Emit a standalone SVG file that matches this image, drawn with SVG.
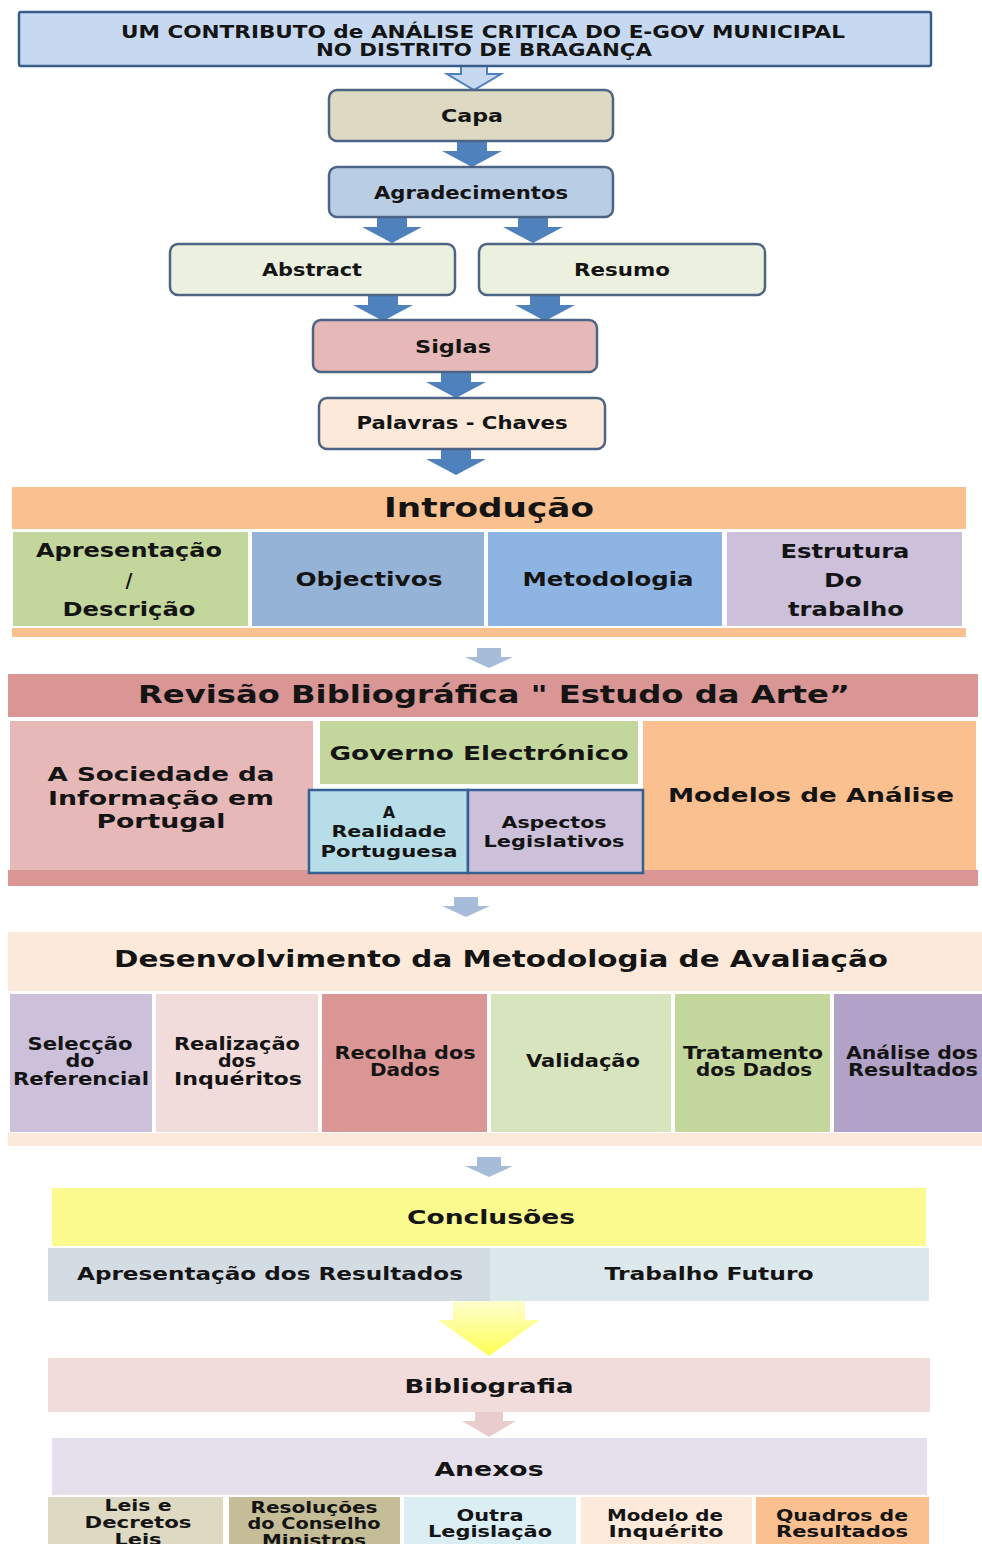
<svg xmlns="http://www.w3.org/2000/svg" width="982" height="1544" viewBox="0 0 982 1544">
  <style>
    .t { font-family: "DejaVu Sans", Verdana, "Liberation Sans", sans-serif; font-weight: bold; fill: #141414; text-anchor: middle; }
    .node { stroke: #4d6585; stroke-width: 2.5; }
    .title { fill: #c6d9f1; stroke: #385d8a; stroke-width: 2.5; }
  </style>
  <defs>
    <!-- block arrows, drawn from the top-centre point downwards -->
    <path id="arrowBlue" d="M-15,0 H15 V10 H30 L0,26 L-30,10 H-15 Z" fill="#4f81bd"/>
    <path id="arrowLight" d="M-12,0 H12 V9 H24 L0,20 L-24,9 H-12 Z" fill="#a7bcd8"/>
    <linearGradient id="yellowFade" x1="0" y1="0" x2="0" y2="1">
      <stop offset="0" stop-color="#fdfdd0"/>
      <stop offset="1" stop-color="#ffff55"/>
    </linearGradient>
  </defs>

  <rect width="982" height="1544" fill="#ffffff"/>

  <!-- connectors -->
  <g id="connectors">
    <path d="M461,66 H487 V74 H501 L474,90 L447,74 H461 Z" fill="#c6d9f1" stroke="#4f81bd" stroke-width="2"/>
    <use href="#arrowBlue" x="472" y="141"/>
    <use href="#arrowBlue" x="392" y="217"/>
    <use href="#arrowBlue" x="533" y="217"/>
    <use href="#arrowBlue" x="383" y="295"/>
    <use href="#arrowBlue" x="545" y="295"/>
    <use href="#arrowBlue" x="456" y="372"/>
    <use href="#arrowBlue" x="456" y="449"/>
    <use href="#arrowLight" x="489" y="648"/>
    <use href="#arrowLight" x="466" y="897"/>
    <use href="#arrowLight" x="489" y="1157"/>
    <path d="M453,1300 H525 V1320 H540 L489,1356 L438,1320 H453 Z" fill="url(#yellowFade)"/>
    <path d="M475,1411 H503 V1421 H516 L489,1437 L462,1421 H475 Z" fill="#e8cdcc"/>
  </g>

  <!-- title -->
  <g id="title">
    <rect class="title" x="19" y="12" width="912" height="54" rx="2"/>
    <text class="t" x="483" y="38" font-size="17" textLength="724" lengthAdjust="spacingAndGlyphs">UM CONTRIBUTO de ANÁLISE CRITICA DO E-GOV MUNICIPAL</text>
    <text class="t" x="484" y="56" font-size="17" textLength="336" lengthAdjust="spacingAndGlyphs">NO DISTRITO DE BRAGANÇA</text>
  </g>

  <g id="capa">
    <rect class="node" x="329" y="90" width="284" height="51" rx="8" fill="#ddd9c3"/>
    <text class="t" x="472" y="122" font-size="17" textLength="62" lengthAdjust="spacingAndGlyphs">Capa</text>
  </g>

  <g id="agradecimentos">
    <rect class="node" x="329" y="167" width="284" height="50" rx="8" fill="#b9cde5"/>
    <text class="t" x="471" y="199" font-size="17" textLength="194" lengthAdjust="spacingAndGlyphs">Agradecimentos</text>
  </g>

  <g id="abstract">
    <rect class="node" x="170" y="244" width="285" height="51" rx="8" fill="#ebf1de"/>
    <text class="t" x="312" y="276" font-size="17" textLength="100" lengthAdjust="spacingAndGlyphs">Abstract</text>
  </g>

  <g id="resumo">
    <rect class="node" x="479" y="244" width="286" height="51" rx="8" fill="#ebf1de"/>
    <text class="t" x="622" y="276" font-size="17" textLength="96" lengthAdjust="spacingAndGlyphs">Resumo</text>
  </g>

  <g id="siglas">
    <rect class="node" x="313" y="320" width="284" height="52" rx="8" fill="#e6b9b8"/>
    <text class="t" x="453" y="353" font-size="17" textLength="76" lengthAdjust="spacingAndGlyphs">Siglas</text>
  </g>

  <g id="palavras-chaves">
    <rect class="node" x="319" y="398" width="286" height="51" rx="8" fill="#fde9d9"/>
    <text class="t" x="462" y="429" font-size="17" textLength="211" lengthAdjust="spacingAndGlyphs">Palavras - Chaves</text>
  </g>

  <!-- Introdução -->
  <g id="introducao">
    <rect x="12" y="487" width="954" height="42" fill="#fac090"/>
    <rect x="12" y="628" width="954" height="9" fill="#fac090"/>
    <text class="t" x="489" y="517" font-size="27" textLength="210" lengthAdjust="spacingAndGlyphs">Introdução</text>
    <rect x="13" y="532" width="235" height="94" fill="#c3d69b"/>
    <rect x="252" y="532" width="232" height="94" fill="#95b3d7"/>
    <rect x="488" y="532" width="234" height="94" fill="#8db4e2"/>
    <rect x="727" y="532" width="235" height="94" fill="#ccc0da"/>
    <text class="t" x="129" y="557" font-size="19" textLength="186" lengthAdjust="spacingAndGlyphs">Apresentação</text>
    <text class="t" x="129" y="587" font-size="19">/</text>
    <text class="t" x="129" y="616" font-size="19" textLength="133" lengthAdjust="spacingAndGlyphs">Descrição</text>
    <text class="t" x="369" y="586" font-size="19" textLength="147" lengthAdjust="spacingAndGlyphs">Objectivos</text>
    <text class="t" x="608" y="586" font-size="19" textLength="171" lengthAdjust="spacingAndGlyphs">Metodologia</text>
    <text class="t" x="845" y="558" font-size="19" textLength="129" lengthAdjust="spacingAndGlyphs">Estrutura</text>
    <text class="t" x="843" y="587" font-size="19" textLength="38" lengthAdjust="spacingAndGlyphs">Do</text>
    <text class="t" x="846" y="616" font-size="19" textLength="116" lengthAdjust="spacingAndGlyphs">trabalho</text>
  </g>

  <!-- Revisão Bibliográfica -->
  <g id="revisao">
    <rect x="8" y="674" width="970" height="43" fill="#d99694"/>
    <rect x="8" y="870" width="970" height="16" fill="#d99694"/>
    <text class="t" x="494" y="703" font-size="24" textLength="712" lengthAdjust="spacingAndGlyphs">Revisão Bibliográfica " Estudo da Arte”</text>
    <rect x="10" y="721" width="303" height="149" fill="#e6b9b8"/>
    <text class="t" x="161" y="781" font-size="20" textLength="227" lengthAdjust="spacingAndGlyphs">A Sociedade da</text>
    <text class="t" x="161" y="805" font-size="20" textLength="226" lengthAdjust="spacingAndGlyphs">Informação em</text>
    <text class="t" x="161" y="828" font-size="20" textLength="129" lengthAdjust="spacingAndGlyphs">Portugal</text>
    <rect x="643" y="721" width="333" height="149" fill="#fac090"/>
    <text class="t" x="811" y="802" font-size="20" textLength="286" lengthAdjust="spacingAndGlyphs">Modelos de Análise</text>
    <rect x="320" y="721" width="318" height="63" fill="#c3d69b"/>
    <text class="t" x="479" y="760" font-size="20" textLength="299" lengthAdjust="spacingAndGlyphs">Governo Electrónico</text>
    <g id="realidade-portuguesa">
      <rect x="309" y="790" width="159" height="83" fill="#b7dde8" stroke="#376092" stroke-width="2.5"/>
      <text class="t" x="389" y="818" font-size="16">A</text>
      <text class="t" x="389" y="837" font-size="16" textLength="115" lengthAdjust="spacingAndGlyphs">Realidade</text>
      <text class="t" x="389" y="857" font-size="16" textLength="137" lengthAdjust="spacingAndGlyphs">Portuguesa</text>
    </g>
    <g id="aspectos-legislativos">
      <rect x="468" y="790" width="175" height="83" fill="#ccc0da" stroke="#376092" stroke-width="2.5"/>
      <text class="t" x="554" y="828" font-size="16" textLength="105" lengthAdjust="spacingAndGlyphs">Aspectos</text>
      <text class="t" x="554" y="847" font-size="16" textLength="141" lengthAdjust="spacingAndGlyphs">Legislativos</text>
    </g>
  </g>

  <!-- Desenvolvimento da Metodologia -->
  <g id="desenvolvimento">
    <rect x="8" y="932" width="974" height="59" fill="#fde9d9"/>
    <rect x="8" y="1133" width="974" height="13" fill="#fde9d9"/>
    <text class="t" x="501" y="967" font-size="23" textLength="774" lengthAdjust="spacingAndGlyphs">Desenvolvimento da Metodologia de Avaliação</text>
    <rect x="10" y="994" width="142" height="138" fill="#ccc0da"/>
    <rect x="156" y="994" width="162" height="138" fill="#f2dcdb"/>
    <rect x="322" y="994" width="165" height="138" fill="#da9694"/>
    <rect x="491" y="994" width="180" height="138" fill="#d7e4bd"/>
    <rect x="675" y="994" width="155" height="138" fill="#c3d69b"/>
    <rect x="834" y="994" width="148" height="138" fill="#b2a2c7"/>
    <text class="t" x="80" y="1050" font-size="17" textLength="105" lengthAdjust="spacingAndGlyphs">Selecção</text>
    <text class="t" x="80" y="1067" font-size="17" textLength="29" lengthAdjust="spacingAndGlyphs">do</text>
    <text class="t" x="81" y="1085" font-size="17" textLength="136" lengthAdjust="spacingAndGlyphs">Referencial</text>
    <text class="t" x="237" y="1050" font-size="17" textLength="126" lengthAdjust="spacingAndGlyphs">Realização</text>
    <text class="t" x="237" y="1067" font-size="17" textLength="38" lengthAdjust="spacingAndGlyphs">dos</text>
    <text class="t" x="238" y="1085" font-size="17" textLength="128" lengthAdjust="spacingAndGlyphs">Inquéritos</text>
    <text class="t" x="405" y="1059" font-size="17" textLength="141" lengthAdjust="spacingAndGlyphs">Recolha dos</text>
    <text class="t" x="405" y="1076" font-size="17" textLength="70" lengthAdjust="spacingAndGlyphs">Dados</text>
    <text class="t" x="583" y="1067" font-size="17" textLength="114" lengthAdjust="spacingAndGlyphs">Validação</text>
    <text class="t" x="753" y="1059" font-size="17" textLength="140" lengthAdjust="spacingAndGlyphs">Tratamento</text>
    <text class="t" x="754" y="1076" font-size="17" textLength="116" lengthAdjust="spacingAndGlyphs">dos Dados</text>
    <text class="t" x="912" y="1059" font-size="17" textLength="132" lengthAdjust="spacingAndGlyphs">Análise dos</text>
    <text class="t" x="913" y="1076" font-size="17" textLength="130" lengthAdjust="spacingAndGlyphs">Resultados</text>
  </g>

  <!-- Conclusões -->
  <g id="conclusoes">
    <rect x="52" y="1188" width="874" height="58" fill="#fafa8e"/>
    <text class="t" x="491" y="1224" font-size="20" textLength="168" lengthAdjust="spacingAndGlyphs">Conclusões</text>
    <rect x="48" y="1248" width="442" height="53" fill="#d3dbe3"/>
    <rect x="490" y="1248" width="439" height="53" fill="#dde8ec"/>
    <text class="t" x="270" y="1280" font-size="17" textLength="386" lengthAdjust="spacingAndGlyphs">Apresentação dos Resultados</text>
    <text class="t" x="709" y="1280" font-size="17" textLength="209" lengthAdjust="spacingAndGlyphs">Trabalho Futuro</text>
  </g>

  <g id="bibliografia">
    <rect x="48" y="1358" width="882" height="54" fill="#f2dcdb"/>
    <text class="t" x="489" y="1393" font-size="20" textLength="169" lengthAdjust="spacingAndGlyphs">Bibliografia</text>
  </g>

  <!-- Anexos -->
  <g id="anexos">
    <rect x="52" y="1438" width="875" height="57" fill="#e5e0ec"/>
    <text class="t" x="489" y="1476" font-size="20" textLength="109" lengthAdjust="spacingAndGlyphs">Anexos</text>
    <rect x="48" y="1497" width="175" height="47" fill="#ddd9c3"/>
    <rect x="229" y="1497" width="171" height="47" fill="#c4bd97"/>
    <rect x="404" y="1497" width="172" height="47" fill="#dbeef4"/>
    <rect x="581" y="1497" width="171" height="47" fill="#fdeada"/>
    <rect x="756" y="1497" width="173" height="47" fill="#fac090"/>
    <text class="t" x="138" y="1511" font-size="16" textLength="67" lengthAdjust="spacingAndGlyphs">Leis e</text>
    <text class="t" x="138" y="1528" font-size="16" textLength="107" lengthAdjust="spacingAndGlyphs">Decretos</text>
    <text class="t" x="138" y="1545" font-size="16" textLength="47" lengthAdjust="spacingAndGlyphs">Leis</text>
    <text class="t" x="314" y="1513" font-size="16" textLength="127" lengthAdjust="spacingAndGlyphs">Resoluções</text>
    <text class="t" x="314" y="1529" font-size="16" textLength="133" lengthAdjust="spacingAndGlyphs">do Conselho</text>
    <text class="t" x="314" y="1546" font-size="16" textLength="104" lengthAdjust="spacingAndGlyphs">Ministros</text>
    <text class="t" x="490" y="1521" font-size="16" textLength="67" lengthAdjust="spacingAndGlyphs">Outra</text>
    <text class="t" x="490" y="1537" font-size="16" textLength="124" lengthAdjust="spacingAndGlyphs">Legislação</text>
    <text class="t" x="665" y="1521" font-size="16" textLength="116" lengthAdjust="spacingAndGlyphs">Modelo de</text>
    <text class="t" x="666" y="1537" font-size="16" textLength="115" lengthAdjust="spacingAndGlyphs">Inquérito</text>
    <text class="t" x="842" y="1521" font-size="16" textLength="132" lengthAdjust="spacingAndGlyphs">Quadros de</text>
    <text class="t" x="842" y="1537" font-size="16" textLength="132" lengthAdjust="spacingAndGlyphs">Resultados</text>
  </g>
</svg>
